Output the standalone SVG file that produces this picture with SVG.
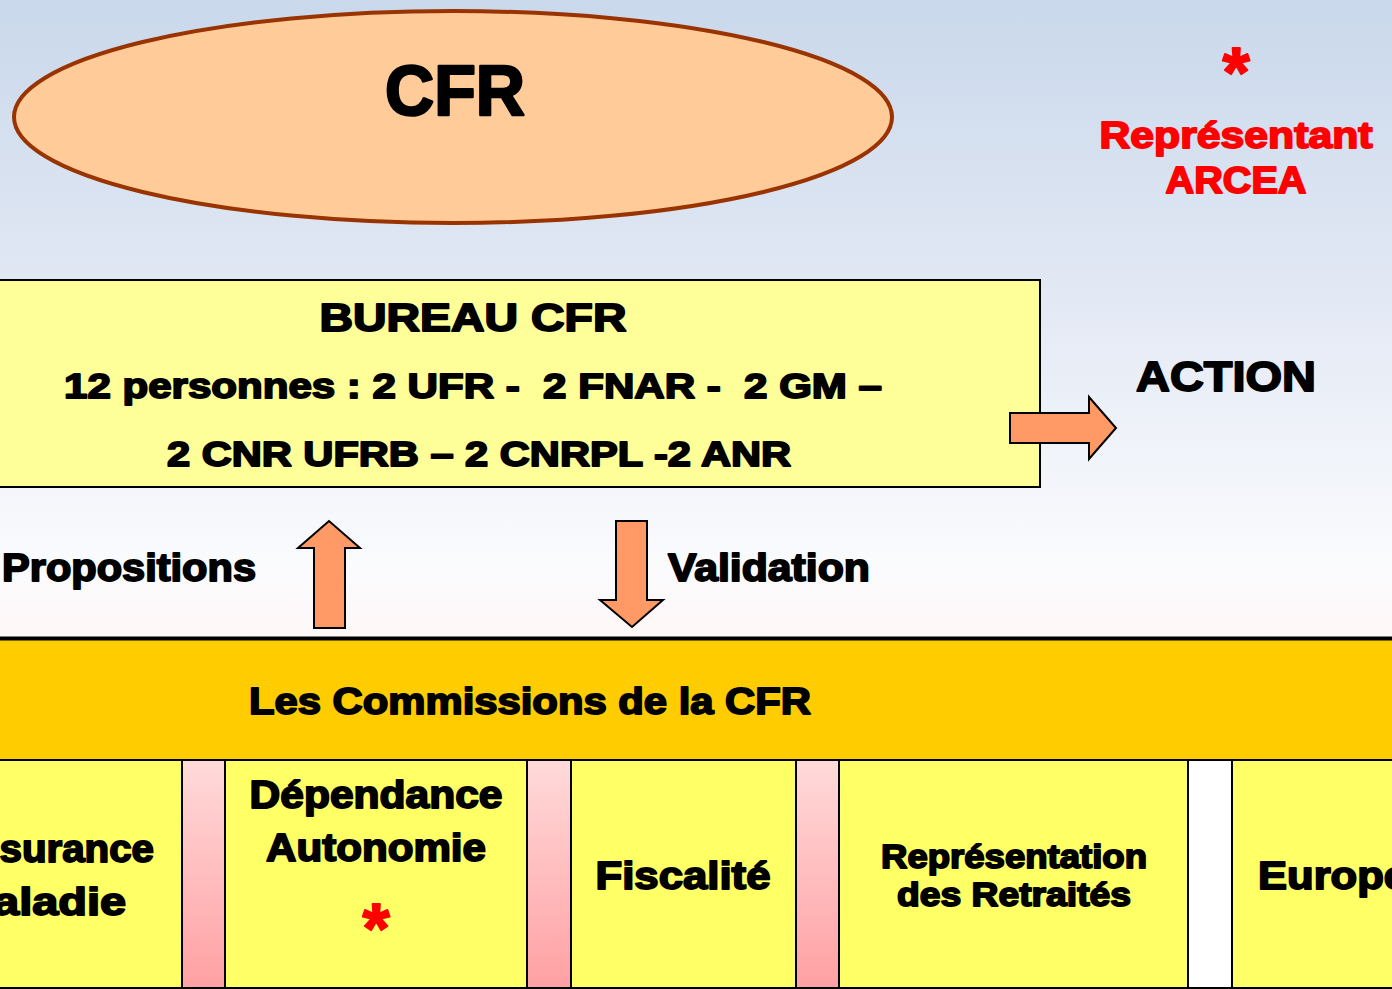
<svg xmlns="http://www.w3.org/2000/svg" width="1392" height="989" viewBox="0 0 1392 989">
<defs>
<linearGradient id="bg" x1="0" y1="0" x2="0" y2="1">
<stop offset="0" stop-color="#c9d8eb"/>
<stop offset="0.45" stop-color="#e2e8f4"/>
<stop offset="0.88" stop-color="#fafbfd"/>
<stop offset="1" stop-color="#fff7f7"/>
</linearGradient>
<linearGradient id="pink" x1="0" y1="0" x2="0" y2="1">
<stop offset="0" stop-color="#ffdada"/>
<stop offset="1" stop-color="#ffa0a3"/>
</linearGradient>
<style>
.t{font-family:"Liberation Sans",Arial,sans-serif;font-weight:bold;fill:#000;stroke:#000;stroke-width:1.8;stroke-linejoin:round;}
.r{font-family:"Liberation Sans",Arial,sans-serif;font-weight:bold;fill:#ff0000;stroke:#ff0000;stroke-width:1.8;stroke-linejoin:round;}
.arrow{fill:#ff9966;stroke:#000;stroke-width:2;stroke-linejoin:miter;}
.cell{fill:#ffff66;stroke:#000;stroke-width:2;}
.sep{fill:url(#pink);stroke:#000;stroke-width:2;}
</style>
</defs>
<rect x="0" y="0" width="1392" height="640" fill="url(#bg)"/>

<g id="cfr">
<ellipse cx="453" cy="117" rx="439" ry="106" fill="#ffcc99" stroke="#993300" stroke-width="4"/>
<text class="t" x="455" y="115" font-size="70" text-anchor="middle" textLength="140" lengthAdjust="spacingAndGlyphs" style="stroke-width:2.5">CFR</text>
</g>

<g id="arcea">
<text class="r" x="1236" y="97" font-size="70" text-anchor="middle">*</text>
<text class="r" x="1236" y="148" font-size="37" text-anchor="middle" textLength="273" lengthAdjust="spacingAndGlyphs">Représentant</text>
<text class="r" x="1236" y="193" font-size="37" text-anchor="middle" textLength="141" lengthAdjust="spacingAndGlyphs">ARCEA</text>
</g>

<g id="bureau">
<rect x="-5" y="280" width="1045" height="207" fill="#ffff99" stroke="#000" stroke-width="2"/>
<text class="t" x="473" y="331" font-size="38" text-anchor="middle" textLength="307" lengthAdjust="spacingAndGlyphs">BUREAU CFR</text>
<text class="t" x="64" y="398" font-size="35" textLength="818" lengthAdjust="spacingAndGlyphs" xml:space="preserve">12 personnes : 2 UFR -  2 FNAR -  2 GM –</text>
<text class="t" x="167" y="466" font-size="35" textLength="624" lengthAdjust="spacingAndGlyphs">2 CNR UFRB – 2 CNRPL -2 ANR</text>
</g>

<g id="action">
<text class="t" x="1136" y="391" font-size="43" textLength="180" lengthAdjust="spacingAndGlyphs">ACTION</text>
</g>

<g id="labels">
<text class="t" x="2" y="581" font-size="38" textLength="254" lengthAdjust="spacingAndGlyphs">Propositions</text>
<text class="t" x="668" y="581" font-size="38" textLength="202" lengthAdjust="spacingAndGlyphs">Validation</text>
</g>

<g id="connectors">
<polygon class="arrow" points="1010,413 1089,413 1089,397 1116,428 1089,459 1089,443 1010,443"/>
<polygon class="arrow" points="314,628 314,548 298,548 329,521 360,548 345,548 345,628"/>
<polygon class="arrow" points="616,521 647,521 647,600 663,600 632,627 600,600 616,600"/>
</g>

<g id="commissions">
<rect x="-5" y="639" width="1402" height="121" fill="#ffcc00" stroke="#000" stroke-width="2"/>
<line x1="0" y1="638.5" x2="1392" y2="638.5" stroke="#000" stroke-width="4"/>
<text class="t" x="530" y="714" font-size="37" text-anchor="middle" textLength="562" lengthAdjust="spacingAndGlyphs">Les Commissions de la CFR</text>
</g>

<g id="assurance">
<rect class="cell" x="-5" y="760" width="187" height="228"/>
<text class="t" x="154" y="862" font-size="38" text-anchor="end" textLength="206" lengthAdjust="spacingAndGlyphs">Assurance</text>
<text class="t" x="126" y="915" font-size="38" text-anchor="end" textLength="172" lengthAdjust="spacingAndGlyphs">Maladie</text>
</g>
<g id="sep1"><rect class="sep" x="182" y="760" width="43" height="228"/></g>

<g id="dependance">
<rect class="cell" x="225" y="760" width="302" height="228"/>
<text class="t" x="376" y="808" font-size="38" text-anchor="middle" textLength="253" lengthAdjust="spacingAndGlyphs">Dépendance</text>
<text class="t" x="376" y="861" font-size="38" text-anchor="middle" textLength="220" lengthAdjust="spacingAndGlyphs">Autonomie</text>
<text class="r" x="376" y="953" font-size="70" text-anchor="middle">*</text>
</g>
<g id="sep2"><rect class="sep" x="527" y="760" width="44" height="228"/></g>

<g id="fiscalite">
<rect class="cell" x="571" y="760" width="225" height="228"/>
<text class="t" x="683" y="889" font-size="38" text-anchor="middle" textLength="175" lengthAdjust="spacingAndGlyphs">Fiscalité</text>
</g>
<g id="sep3"><rect class="sep" x="796" y="760" width="43" height="228"/></g>

<g id="representation">
<rect class="cell" x="839" y="760" width="349" height="228"/>
<text class="t" x="1014" y="868" font-size="33" text-anchor="middle" textLength="266" lengthAdjust="spacingAndGlyphs">Représentation</text>
<text class="t" x="1014" y="906" font-size="33" text-anchor="middle" textLength="234" lengthAdjust="spacingAndGlyphs">des Retraités</text>
</g>
<g id="sep4"><rect x="1188" y="760" width="44" height="228" fill="#ffffff" stroke="#000" stroke-width="2"/></g>

<g id="europe">
<rect class="cell" x="1232" y="760" width="170" height="228"/>
<text class="t" x="1258" y="889" font-size="38" textLength="150" lengthAdjust="spacingAndGlyphs">Europe</text>
</g>
</svg>
